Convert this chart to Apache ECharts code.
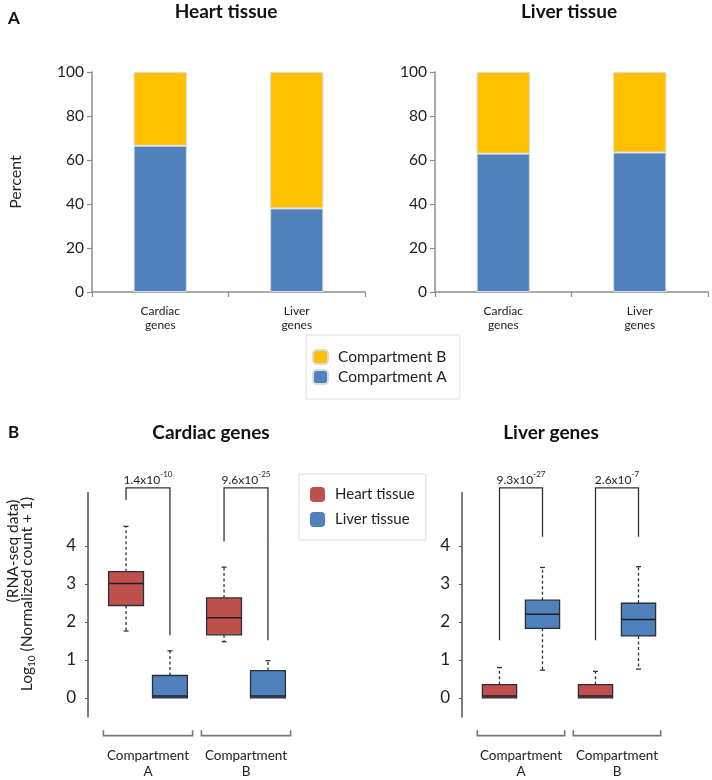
<!DOCTYPE html>
<html><head><meta charset="utf-8">
<script src="https://cdn.jsdelivr.net/npm/echarts@6/dist/echarts.min.js"></script>
<style>html,body{margin:0;padding:0;background:#fff}#c{width:712px;height:780px}</style>
</head><body><div id="c"></div>
<script>
// ---------- Panel A data ----------
const geneCategories = ['Cardiac\ngenes', 'Liver\ngenes'];
const heartTissueCompA = [66.5, 38.0];
const heartTissueCompB = [33.5, 62.0];
const liverTissueCompA = [62.9, 63.4];
const liverTissueCompB = [37.1, 36.6];
const percentTicks = [0, 20, 40, 60, 80, 100];

// ---------- Panel B data ----------
const compartments = ['Compartment\nA', 'Compartment\nB'];
// each: [lower whisker, Q1, median, Q3, upper whisker]
const cardiacHeart = [[1.76, 2.43, 3.01, 3.32, 4.51], [1.48, 1.66, 2.11, 2.63, 3.44]];
const cardiacLiver = [[0, 0, 0.05, 0.59, 1.24], [0, 0, 0.05, 0.72, 0.98]];
const liverGenesHeart = [[0, 0, 0.05, 0.35, 0.80], [0, 0, 0.05, 0.35, 0.70]];
const liverGenesLiver = [[0.73, 1.83, 2.20, 2.57, 3.43], [0.76, 1.63, 2.06, 2.49, 3.45]];
const rnaTicks = [0, 1, 2, 3, 4];
// p-values: [mantissa, exponent]
const cardiacPValues = [['1.4', '-10'], ['9.6', '-25']];
const liverPValues = [['9.3', '-27'], ['2.6', '-7']];
// significance bracket leg ends: [heart leg bottom, liver leg bottom]
const cardiacBracketLegs = [[5.2, 1.65], [4.11, 1.52]];
const liverBracketLegs = [[1.52, 4.24], [1.52, 4.24]];
const bracketTop = 5.52;
const pLabelLevel = 5.77;
const groupBracketLevel = -0.99;
const groupBracketTickTop = -0.85;

const FONT = 'Lato';
const BLUE = '#4F81BD', YELLOW = '#FFC000', RED = '#C0504D';

const chart = echarts.init(document.getElementById('c'), null, {renderer: 'canvas'});

function boxRender(side) {
  return function (params, api) {
    const cat = api.value(0);
    const bw = api.size([1, 0])[0];
    const cx = api.coord([cat, 0])[0] + side * bw * 0.224;
    const hw = bw * 0.178;
    const y = v => api.coord([cat, v])[1];
    const lo = api.value(1), q1 = api.value(2), med = api.value(3), q3 = api.value(4), hi = api.value(5);
    const color = api.visual('color');
    const ch = [];
    const dashStyle = {stroke: '#333', lineWidth: 1.3, lineDash: [3, 2.5]};
    const solid = {stroke: '#333', lineWidth: 1.3};
    if (hi > q3) {
      ch.push({type: 'line', shape: {x1: cx, y1: y(q3), x2: cx, y2: y(hi)}, style: dashStyle});
      ch.push({type: 'line', shape: {x1: cx - 2.5, y1: y(hi), x2: cx + 2.5, y2: y(hi)}, style: solid});
    }
    if (lo < q1) {
      ch.push({type: 'line', shape: {x1: cx, y1: y(q1), x2: cx, y2: y(lo)}, style: dashStyle});
      ch.push({type: 'line', shape: {x1: cx - 2.5, y1: y(lo), x2: cx + 2.5, y2: y(lo)}, style: solid});
    }
    ch.push({type: 'rect', shape: {x: cx - hw, y: y(q3), width: 2 * hw, height: y(q1) - y(q3)},
      style: {fill: color, stroke: '#2b2f36', lineWidth: 1.3}});
    ch.push({type: 'line', shape: {x1: cx - hw, y1: y(med), x2: cx + hw, y2: y(med)},
      style: {stroke: '#1e2228', lineWidth: 1.5}});
    return {type: 'group', children: ch};
  };
}

function annotRender(pvals) {
  return function (params, api) {
    const cat = api.value(0);
    const bw = api.size([1, 0])[0];
    const c = api.coord([cat, 0])[0];
    const xl = c - bw * 0.224, xr = c + bw * 0.224;
    const y = v => api.coord([cat, v])[1];
    const st = {stroke: '#333', lineWidth: 1.3};
    const gst = {stroke: '#777', lineWidth: 1.6};
    const hb = bw * 0.455;
    const p = pvals[params.dataIndex];
    return {type: 'group', children: [
      {type: 'polyline', shape: {points: [[xl, y(api.value(1))], [xl, y(bracketTop)], [xr, y(bracketTop)], [xr, y(api.value(2))]]}, style: Object.assign({fill: null}, st)},
      {type: 'text', style: {x: (xl + xr) / 2, y: y(pLabelLevel), align: 'center', verticalAlign: 'middle',
        text: '{b|' + p[0] + 'x10}{s|' + p[1] + '}',
        rich: {b: {fontSize: 12, fontFamily: FONT, fill: '#222', lineHeight: 15, verticalAlign: 'bottom'},
               s: {fontSize: 8, fontFamily: FONT, fill: '#222', lineHeight: 15, verticalAlign: 'top'}}}},
      {type: 'polyline', shape: {points: [[c - hb, y(groupBracketTickTop)], [c - hb, y(groupBracketLevel)], [c + hb, y(groupBracketLevel)], [c + hb, y(groupBracketTickTop)]]}, style: Object.assign({fill: null}, gst)}
    ]};
  };
}

const boxData = arr => arr.map((d, i) => [i].concat(d));
const legData = arr => arr.map((d, i) => [i].concat(d));

const barYAxis = gi => ({
  type: 'value', gridIndex: gi, min: 0, max: 100, interval: 20,
  axisLine: {show: true, lineStyle: {color: '#8c8c8c', width: 1.5}},
  axisTick: {show: true, length: 5, lineStyle: {color: '#8c8c8c', width: 1.2}},
  splitLine: {show: false},
  axisLabel: {fontSize: 15.5, color: '#222', fontFamily: FONT, margin: 8}
});
const barXAxis = gi => ({
  type: 'category', gridIndex: gi, data: geneCategories,
  axisLine: {show: true, lineStyle: {color: '#8c8c8c', width: 1.5}},
  axisTick: {show: true, length: 5, lineStyle: {color: '#8c8c8c', width: 1.2}},
  axisLabel: {fontSize: 12, color: '#222', fontFamily: FONT, lineHeight: 14, margin: 12, interval: 0}
});
const boxYAxis = gi => ({
  type: 'value', gridIndex: gi, min: -0.5, max: 5.4, offset: 11,
  axisLine: {show: true, lineStyle: {color: '#555', width: 1.5}},
  axisTick: {show: true, length: 3, customValues: rnaTicks, lineStyle: {color: '#555'}},
  splitLine: {show: false},
  axisLabel: {fontSize: 17, color: '#222', fontFamily: FONT, margin: 12, customValues: rnaTicks}
});
const boxXAxis = gi => ({
  type: 'category', gridIndex: gi, data: compartments,
  axisLine: {show: false}, axisTick: {show: false},
  axisLabel: {fontSize: 13.5, color: '#222', fontFamily: FONT, lineHeight: 16, margin: 31, interval: 0}
});

const barCommon = {type: 'bar', barWidth: '39%', silent: true};

const option = {
  animation: false,
  backgroundColor: '#fff',
  grid: [
    {left: 92, width: 273, top: 72, height: 220},
    {left: 435, width: 273, top: 72, height: 220},
    {left: 99, width: 196, top: 492.5, height: 225.4},
    {left: 473, width: 192, top: 492.5, height: 225.4}
  ],
  xAxis: [barXAxis(0), barXAxis(1), boxXAxis(2), boxXAxis(3)],
  yAxis: [barYAxis(0), barYAxis(1), boxYAxis(2), boxYAxis(3)],
  legend: [
    {data: ['Compartment B', 'Compartment A'], orient: 'vertical', left: 306, top: 335,
     itemWidth: 15, itemHeight: 14, itemGap: 4, padding: [14, 13, 14, 6],
     borderColor: '#dedede', borderWidth: 1, selectedMode: false,
     textStyle: {fontSize: 15.5, color: '#222', fontFamily: FONT, padding: [0, 0, 0, 5]}},
    {data: ['Heart tissue', 'Liver tissue'], orient: 'vertical', left: 299, top: 474,
     itemWidth: 15, itemHeight: 15, itemGap: 10, padding: [13, 11, 13, 11],
     borderColor: '#dedede', borderWidth: 1, selectedMode: false,
     textStyle: {fontSize: 15, color: '#222', fontFamily: FONT, padding: [0, 0, 0, 5]}}
  ],
  series: [
    Object.assign({}, barCommon, {name: 'Compartment A', xAxisIndex: 0, yAxisIndex: 0, stack: 'h', data: heartTissueCompA, itemStyle: {color: BLUE, borderColor: '#dcdcdc', borderWidth: 1}}),
    Object.assign({}, barCommon, {name: 'Compartment B', xAxisIndex: 0, yAxisIndex: 0, stack: 'h', data: heartTissueCompB, itemStyle: {color: YELLOW, borderColor: '#dcdcdc', borderWidth: 1}}),
    Object.assign({}, barCommon, {name: 'Compartment A', xAxisIndex: 1, yAxisIndex: 1, stack: 'l', data: liverTissueCompA, itemStyle: {color: BLUE, borderColor: '#dcdcdc', borderWidth: 1}}),
    Object.assign({}, barCommon, {name: 'Compartment B', xAxisIndex: 1, yAxisIndex: 1, stack: 'l', data: liverTissueCompB, itemStyle: {color: YELLOW, borderColor: '#dcdcdc', borderWidth: 1}}),
    {type: 'custom', name: 'Heart tissue', xAxisIndex: 2, yAxisIndex: 2, itemStyle: {color: RED}, renderItem: boxRender(-1), data: boxData(cardiacHeart), encode: {x: 0, y: [1, 2, 3, 4, 5]}, silent: true},
    {type: 'custom', name: 'Liver tissue', xAxisIndex: 2, yAxisIndex: 2, itemStyle: {color: BLUE}, renderItem: boxRender(1), data: boxData(cardiacLiver), encode: {x: 0, y: [1, 2, 3, 4, 5]}, silent: true},
    {type: 'custom', name: 'Heart tissue', xAxisIndex: 3, yAxisIndex: 3, itemStyle: {color: RED}, renderItem: boxRender(-1), data: boxData(liverGenesHeart), encode: {x: 0, y: [1, 2, 3, 4, 5]}, silent: true},
    {type: 'custom', name: 'Liver tissue', xAxisIndex: 3, yAxisIndex: 3, itemStyle: {color: BLUE}, renderItem: boxRender(1), data: boxData(liverGenesLiver), encode: {x: 0, y: [1, 2, 3, 4, 5]}, silent: true},
    {type: 'custom', name: 'annotA', xAxisIndex: 2, yAxisIndex: 2, renderItem: annotRender(cardiacPValues), data: legData(cardiacBracketLegs), encode: {x: 0, y: [1, 2]}, silent: true},
    {type: 'custom', name: 'annotB', xAxisIndex: 3, yAxisIndex: 3, renderItem: annotRender(liverPValues), data: legData(liverBracketLegs), encode: {x: 0, y: [1, 2]}, silent: true}
  ],
  graphic: [
    {type: 'text', x: 8, y: 19, style: {text: 'A', fontSize: 17, fontWeight: 'bold', fontFamily: FONT, fill: '#111', verticalAlign: 'middle'}},
    {type: 'text', x: 226, y: 12, style: {text: 'Heart tissue', fontSize: 19, fontWeight: 'bold', fontFamily: FONT, fill: '#111', align: 'center', verticalAlign: 'middle'}},
    {type: 'text', x: 569, y: 12, style: {text: 'Liver tissue', fontSize: 19, fontWeight: 'bold', fontFamily: FONT, fill: '#111', align: 'center', verticalAlign: 'middle'}},
    {type: 'text', x: 16, y: 182, rotation: Math.PI / 2, style: {text: 'Percent', fontSize: 16, fontFamily: FONT, fill: '#222', align: 'center', verticalAlign: 'middle'}},
    {type: 'text', x: 8, y: 433, style: {text: 'B', fontSize: 17, fontWeight: 'bold', fontFamily: FONT, fill: '#111', verticalAlign: 'middle'}},
    {type: 'text', x: 211, y: 433, style: {text: 'Cardiac genes', fontSize: 19, fontWeight: 'bold', fontFamily: FONT, fill: '#111', align: 'center', verticalAlign: 'middle'}},
    {type: 'text', x: 551, y: 433, style: {text: 'Liver genes', fontSize: 19, fontWeight: 'bold', fontFamily: FONT, fill: '#111', align: 'center', verticalAlign: 'middle'}},
    {type: 'text', x: 13, y: 551, rotation: Math.PI / 2, style: {text: '(RNA-seq data)', fontSize: 15.5, fontFamily: FONT, fill: '#222', align: 'center', verticalAlign: 'middle'}},
    {type: 'text', x: 28, y: 594, rotation: Math.PI / 2, style: {
      text: '{a|Log}{s|10}{a| (Normalized count + 1)}', align: 'center', verticalAlign: 'middle',
      rich: {a: {fontSize: 15.5, fontFamily: FONT, fill: '#222', lineHeight: 18, verticalAlign: 'top'},
             s: {fontSize: 10, fontFamily: FONT, fill: '#222', lineHeight: 18, verticalAlign: 'bottom'}}}}
  ]
};
chart.setOption(option);
</script></body></html>
